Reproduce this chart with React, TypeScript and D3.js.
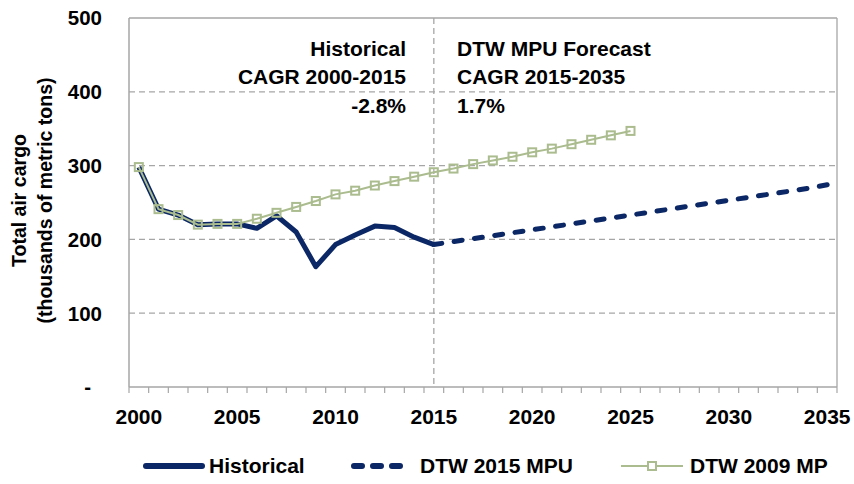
import React from "react";
import * as d3 from "d3";

const years = d3.range(2000, 2036);
const histYears = d3.range(2000, 2016);
const histValues = [298, 241, 233, 220, 221, 221, 215, 232, 210, 163, 193, 206, 218, 216, 203, 193];
const mpuYears = d3.range(2015, 2036);
const mpuValues = [193, 197, 201, 205, 209, 213, 217, 221, 225, 229, 233, 237, 241, 245, 249, 253, 257, 261, 265, 269, 274];
const mpYears = d3.range(2000, 2026);
const mpValues = [298, 241, 233, 220, 221, 221, 228, 236, 244, 252, 261, 266, 273, 279, 285, 291, 296, 302, 307, 312, 318, 323, 329, 335, 341, 347];
const yTicks = [0, 100, 200, 300, 400, 500];
const xTickLabels = [2000, 2005, 2010, 2015, 2020, 2025, 2030, 2035];

const NAVY = "#0B2765";
const GREEN = "#ABBC8F";
const GRID = "#A6A6A6";
const FONT = "'Liberation Sans', Arial, sans-serif";

export default function App() {
  const W = 854, H = 484;
  const left = 129, right = 837, top = 18, bottom = 387;
  const xb = d3.scaleBand<number>().domain(years).range([left, right]).padding(0);
  const x = (yr: number) => (xb(yr) as number) + xb.bandwidth() / 2;
  const y = d3.scaleLinear().domain([0, 500]).range([bottom, top]);
  const line = (xs: number[], vs: number[]) =>
    d3.line<number>().x((_, i) => x(xs[i])).y((v) => y(v))(vs) as string;

  // fit dash pattern so the forecast line ends on a dash
  const mpuLen = d3.sum(mpuValues.slice(1).map((v, i) => Math.hypot(x(mpuYears[i + 1]) - x(mpuYears[i]), y(v) - y(mpuValues[i]))));
  const dash = 8;
  const nPer = Math.round((mpuLen - dash) / 21);
  const gap = (mpuLen - dash) / nPer - dash;

  return (
    <svg width={W} height={H} style={{ position: "absolute", left: 0, top: 0 }} fontFamily={FONT}>
      <rect x={0} y={0} width={W} height={H} fill="#fff" />
      {yTicks.filter((t) => t > 0 && t < 500).map((t) => (
        <line key={t} x1={left} x2={right} y1={y(t)} y2={y(t)} stroke={GRID} strokeWidth={1.3} strokeDasharray="6,4" />
      ))}
      <line x1={left} x2={right} y1={top} y2={top} stroke={GRID} strokeWidth={1.3} />
      <line x1={right} x2={right} y1={top} y2={bottom} stroke={GRID} strokeWidth={1.3} />
      <line x1={left} x2={left} y1={top} y2={bottom} stroke={GRID} strokeWidth={1.5} />
      <line x1={left} x2={right} y1={bottom} y2={bottom} stroke={GRID} strokeWidth={1.5} />
      {years.concat([2036]).map((yr) => {
        const xx = yr === 2036 ? right : (xb(yr) as number);
        return <line key={yr} x1={xx} x2={xx} y1={bottom} y2={bottom + 6} stroke={GRID} strokeWidth={1.2} />;
      })}
      <line x1={x(2015)} x2={x(2015)} y1={top} y2={bottom} stroke={GRID} strokeWidth={1.3} strokeDasharray="6,4" />
      {yTicks.map((t) => (
        <text key={t} x={t === 0 ? 91 : 102} y={y(t)} dy="0.36em" textAnchor="end" fontSize={20.5} fontWeight="bold" fill="#000">
          {t === 0 ? "-" : t}
        </text>
      ))}
      {xTickLabels.map((t) => (
        <text key={t} x={x(t)} y={424} textAnchor="middle" fontSize={21} fontWeight="bold" fill="#000">{t}</text>
      ))}
      <g transform={`translate(26,${(top + bottom) / 2 - 2}) rotate(-90)`}>
        <text x={0} y={0} textAnchor="middle" fontSize={19.5} fontWeight="bold">Total air cargo</text>
        <text x={0} y={26} textAnchor="middle" fontSize={19.5} fontWeight="bold">(thousands of metric tons)</text>
      </g>
      <path d={line(histYears, histValues)} fill="none" stroke={NAVY} strokeWidth={5} strokeLinejoin="round" />
      <path d={line(mpuYears, mpuValues)} fill="none" stroke={NAVY} strokeWidth={5} strokeDasharray={`${dash},${gap}`} strokeLinecap="round" />
      <path d={line(mpYears, mpValues)} fill="none" stroke={GREEN} strokeWidth={2} />
      {mpYears.map((yr, i) => (
        <rect key={yr} x={x(yr) - 4} y={y(mpValues[i]) - 4} width={8} height={8} fill="none" stroke={GREEN} strokeWidth={2} />
      ))}
      <g fontSize={21} fontWeight="bold" fill="#000">
        <text x={406} y={56} textAnchor="end">Historical</text>
        <text x={406} y={84} textAnchor="end">CAGR 2000-2015</text>
        <text x={406} y={113} textAnchor="end">-2.8%</text>
        <text x={457} y={56}>DTW MPU Forecast</text>
        <text x={457} y={84}>CAGR 2015-2035</text>
        <text x={457} y={113}>1.7%</text>
      </g>
      <g fontSize={21} fontWeight="bold">
        <line x1={146} x2={202} y1={466} y2={466} stroke={NAVY} strokeWidth={6} strokeLinecap="round" />
        <text x={209} y={473}>Historical</text>
        <line x1={354} x2={404} y1={466} y2={466} stroke={NAVY} strokeWidth={6} strokeDasharray="8,11" strokeLinecap="round" />
        <text x={420} y={473}>DTW 2015 MPU</text>
        <line x1={621} x2={683} y1={466} y2={466} stroke={GREEN} strokeWidth={2} />
        <rect x={648} y={462} width={8} height={8} fill="#fff" stroke={GREEN} strokeWidth={2} />
        <text x={690} y={473}>DTW 2009 MP</text>
      </g>
    </svg>
  );
}
